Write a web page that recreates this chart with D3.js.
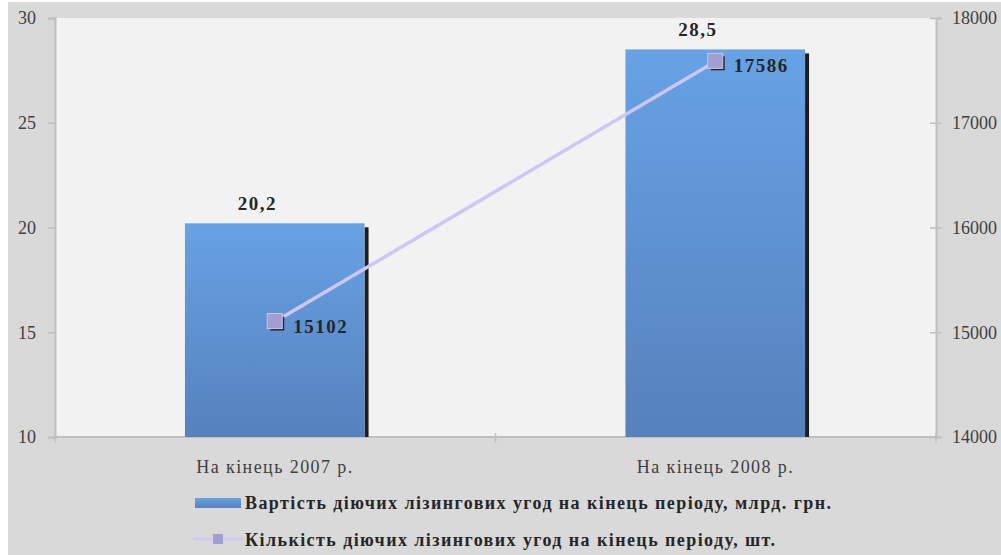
<!DOCTYPE html>
<html>
<head>
<meta charset="utf-8">
<script src="https://cdn.jsdelivr.net/npm/d3@7"></script>
<style>
    body { margin: 0; background: #ffffff; }
    svg { display: block; }
    svg text { font-family: "Liberation Serif", "Times New Roman", "DejaVu Serif", serif; }
</style>
</head>
<body>
<div id="chart"></div>
<script>
// data
var categories = ["На кінець 2007 р.", "На кінець 2008 р."]
var contractValues = [20.2, 28.5]      // млрд. грн. (left axis)
var contractCounts = [15102, 17586]    // шт. (right axis)
var leftTicks = [10, 15, 20, 25, 30]
var rightTicks = [14000, 15000, 16000, 17000, 18000]
var legendLabels = [
    "Вартість діючих лізингових угод на кінець періоду, млрд. грн.",
    "Кількість діючих лізингових угод на кінець періоду, шт."
]

/**
 * This function is for drawing the whole combo chart
 * @param {string} id - container selector
 */
function drawChart(id) {
    var width = 1001
    var height = 555
    var plot = { left: 55, right: 936, top: 18, bottom: 437 }

    var svg = d3.select(id)
        .append("svg")
        .attr("width", width)
        .attr("height", height)

    // gradient for bars
    var defs = svg.append("defs")
    var grad = defs.append("linearGradient")
        .attr("id", "barGrad")
        .attr("x1", 0).attr("y1", 0).attr("x2", 0).attr("y2", 1)
    grad.append("stop").attr("offset", "0%").attr("stop-color", "#67a2e4")
    grad.append("stop").attr("offset", "100%").attr("stop-color", "#5681bd")

    // backgrounds
    svg.append("rect")
        .attr("x", 8).attr("y", 2)
        .attr("width", width - 8).attr("height", height - 2)
        .attr("fill", "#d9d9d9")
    svg.append("rect")
        .attr("x", plot.left).attr("y", plot.top)
        .attr("width", plot.right - plot.left)
        .attr("height", plot.bottom - plot.top)
        .attr("fill", "#f2f2f2")

    // scales
    var x = d3.scaleBand()
        .domain(categories)
        .range([plot.left, plot.right])
        .paddingInner(0.59)
        .paddingOuter(0.295)
    var yLeft = d3.scaleLinear()
        .domain([10, 30])
        .range([plot.bottom, plot.top])
    var yRight = d3.scaleLinear()
        .domain([14000, 18000])
        .range([plot.bottom, plot.top])

    // left axis
    var gLeft = svg.append("g")
        .attr("transform", "translate(" + plot.left + ",0)")
        .call(d3.axisLeft(yLeft).tickValues(leftTicks).tickSize(7).tickPadding(12).tickFormat(d3.format("d")))
    styleAxis(gLeft)

    // right axis
    var gRight = svg.append("g")
        .attr("transform", "translate(" + plot.right + ",0)")
        .call(d3.axisRight(yRight).tickValues(rightTicks).tickSize(6).tickPadding(10).tickFormat(d3.format("d")))
    styleAxis(gRight)
    gRight.selectAll(".tick line").attr("x1", -6)

    // bottom axis line + category boundary ticks
    svg.append("line")
        .attr("x1", plot.left).attr("x2", plot.right)
        .attr("y1", plot.bottom).attr("y2", plot.bottom)
        .attr("stroke", "#bfbfbf").attr("stroke-width", 2)
    var bounds = [plot.left, plot.left + x.step(), plot.right]
    svg.selectAll(".ctick")
        .data(bounds)
        .enter()
        .append("line")
        .attr("x1", function (d) { return d }).attr("x2", function (d) { return d })
        .attr("y1", plot.bottom - 4).attr("y2", plot.bottom + 6)
        .attr("stroke", "#c0c0c0").attr("stroke-width", 1.5)

    // category labels
    svg.selectAll(".cat")
        .data(categories)
        .enter()
        .append("text")
        .attr("x", function (d) { return x(d) + x.bandwidth() / 2 - 1 })
        .attr("y", 473)
        .attr("text-anchor", "middle")
        .attr("font-size", 18)
        .attr("fill", "#404040")
        .attr("textLength", 156)
        .attr("lengthAdjust", "spacing")
        .text(function (d) { return d })

    // bars with dark right edge
    var bars = svg.selectAll(".bar")
        .data(contractValues)
        .enter()
        .append("g")
    bars.append("rect")
        .attr("x", function (d, i) { return x(categories[i]) + x.bandwidth() - 1 })
        .attr("y", function (d) { return yLeft(d) + 4 })
        .attr("width", 4)
        .attr("height", function (d) { return plot.bottom - yLeft(d) - 4 })
        .attr("fill", "#1e1e1e")
    bars.append("rect")
        .attr("x", function (d, i) { return x(categories[i]) })
        .attr("y", function (d) { return yLeft(d) })
        .attr("width", x.bandwidth() - 1)
        .attr("height", function (d) { return plot.bottom - yLeft(d) })
        .attr("fill", "url(#barGrad)")

    // bar value labels
    var uaFormat = d3.formatLocale({ decimal: ",", thousands: " ", grouping: [3], currency: ["", ""] }).format(".1f")
    svg.selectAll(".vlabel")
        .data(contractValues)
        .enter()
        .append("text")
        .attr("x", function (d, i) { return x(categories[i]) + x.bandwidth() / 2 - 18 })
        .attr("y", function (d) { return yLeft(d) - 13 })
        .attr("text-anchor", "middle")
        .attr("font-weight", "bold")
        .attr("font-size", 19)
        .attr("letter-spacing", 1.5)
        .attr("fill", "#262626")
        .text(function (d) { return uaFormat(d) })

    // line series
    var line = d3.line()
        .x(function (d, i) { return x(categories[i]) + x.bandwidth() / 2 })
        .y(function (d) { return yRight(d) })
    svg.append("path")
        .datum(contractCounts)
        .attr("d", line)
        .attr("fill", "none")
        .attr("stroke", "#cdc6f6")
        .attr("stroke-width", 3.5)

    // markers with shadow
    var markers = svg.selectAll(".marker")
        .data(contractCounts)
        .enter()
        .append("g")
        .attr("transform", function (d, i) {
            return "translate(" + (x(categories[i]) + x.bandwidth() / 2) + "," + yRight(d) + ")"
        })
    markers.append("rect")
        .attr("x", -5).attr("y", -5).attr("width", 14).attr("height", 14)
        .attr("fill", "#2a2a2a")
    markers.append("rect")
        .attr("x", -8).attr("y", -8).attr("width", 15).attr("height", 15)
        .attr("fill", "#a39ed2")
        .attr("stroke", "#c9c4ee")
        .attr("stroke-width", 1)
    markers.append("text")
        .attr("x", 18)
        .attr("y", 11)
        .attr("font-weight", "bold")
        .attr("font-size", 19)
        .attr("letter-spacing", 1.5)
        .attr("fill", "#262626")
        .text(function (d) { return d })

    // legend
    var legend = svg.append("g")
    legend.append("rect")
        .attr("x", 195).attr("y", 498).attr("width", 46).attr("height", 10)
        .attr("fill", "url(#barGrad)")
    legend.append("line")
        .attr("x1", 193).attr("x2", 243).attr("y1", 539).attr("y2", 539)
        .attr("stroke", "#cdc6f6").attr("stroke-width", 3)
    legend.append("rect")
        .attr("x", 213).attr("y", 534).attr("width", 10).attr("height", 10)
        .attr("fill", "#a39ed2")
    var legendWidths = [586, 530]
    legend.selectAll(".ltext")
        .data(legendLabels)
        .enter()
        .append("text")
        .attr("x", 245)
        .attr("y", function (d, i) { return 509 + i * 37 })
        .attr("font-weight", "bold")
        .attr("font-size", 18)
        .attr("fill", "#262626")
        .attr("textLength", function (d, i) { return legendWidths[i] })
        .attr("lengthAdjust", "spacing")
        .text(function (d) { return d })
}

/**
 * This function is for styling the axis lines and labels
 * @param {object} g - axis group
 */
function styleAxis(g) {
    g.attr("font-family", null)
    g.select(".domain").attr("stroke", "#bfbfbf").attr("stroke-width", 2)
    g.selectAll(".tick line").attr("stroke", "#bfbfbf").attr("stroke-width", 1.5)
    g.selectAll(".tick text")
        .attr("font-size", 18)
        .attr("fill", "#404040")
}

drawChart("#chart")
</script>
</body>
</html>
